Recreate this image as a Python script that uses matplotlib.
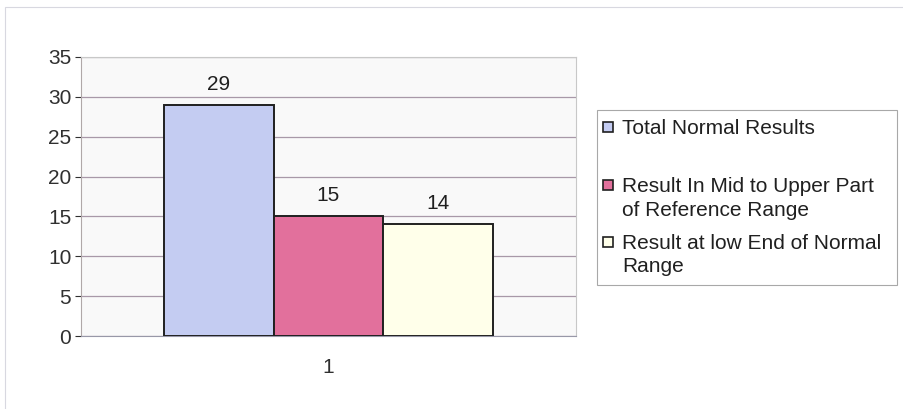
import matplotlib
matplotlib.use("Agg")
import matplotlib.pyplot as plt
from matplotlib.patches import Rectangle

categories = ["1"]
series_names = ["Total Normal Results",
                "Result In Mid to Upper Part\nof Reference Range",
                "Result at low End of Normal\nRange"]
series_values = [29, 15, 14]
bar_colors = ["#C4CCF2", "#E2709C", "#FFFFEA"]
y_ticks = [0, 5, 10, 15, 20, 25, 30, 35]

plt.rcParams["font.family"] = ["Liberation Sans", "DejaVu Sans"]
FS = 15

W, H = 904, 409
fig = plt.figure(figsize=(W / 100, H / 100), dpi=100)
fig.patch.set_facecolor("white")
# outer chart border (faint)
fig.add_artist(Rectangle((0.006, -0.01), 0.995, 0.993, transform=fig.transFigure,
                         fill=False, edgecolor="#D8D8E0", linewidth=0.8))

ax = fig.add_axes([81 / W, 1 - 336 / H, 495 / W, 279 / H])
ax.set_facecolor("#F9F9F9")

width = 0.222
for i, (name, val, col) in enumerate(zip(series_names, series_values, bar_colors)):
    x = 1 + (i - 1) * width
    ax.bar(x, val, width=width, color=col, edgecolor="#202020", linewidth=1.4,
           zorder=3)
    ax.text(x, val + 1.4, str(val), ha="center", va="bottom", fontsize=FS, color="#202020")

ax.set_xlim(0.5, 1.5)
ax.set_ylim(0, 35)
ax.set_yticks(y_ticks)
ax.set_xticks([1])
ax.set_xticklabels(categories)
ax.tick_params(axis="both", labelsize=FS, colors="#303030", length=4, width=0.8)
ax.tick_params(axis="x", length=0, pad=16)
ax.tick_params(axis="y", pad=3)
ax.yaxis.grid(True, color="#A898A8", linewidth=0.9, zorder=0)
for side in ["top", "right"]:
    ax.spines[side].set_color("#C8C8C8")
    ax.spines[side].set_linewidth(0.8)
ax.spines["left"].set_color("#B0A8A8")
ax.spines["bottom"].set_color("#9898A8")

# legend box drawn in pixel layout like the Excel chart
def fx(px):
    return px / W

def fy(py):
    return 1 - py / H

fig.add_artist(Rectangle((fx(597), fy(285)), fx(897) - fx(597), fy(110) - fy(285),
                         transform=fig.transFigure, facecolor="white",
                         edgecolor="#A8A8A8", linewidth=0.8))
entry_y = [127, 185, 242]
for name, col, py in zip(series_names, bar_colors, entry_y):
    fig.add_artist(Rectangle((fx(603), fy(py + 5)), 10 / W, 10 / H,
                             transform=fig.transFigure, facecolor=col,
                             edgecolor="#202020", linewidth=1.2))
    fig.text(fx(622), fy(py - 8), name, ha="left", va="top", fontsize=FS,
             color="#202020", linespacing=1.3)

fig.savefig("out.png", dpi=100)
